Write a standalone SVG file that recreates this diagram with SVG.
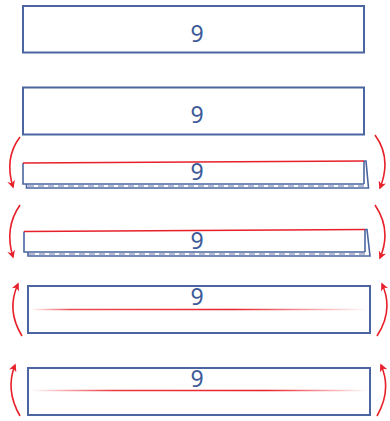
<svg xmlns="http://www.w3.org/2000/svg" width="390" height="421" viewBox="0 0 390 421">
<style>
.box{fill:#fff;stroke:#4a65a0;stroke-width:2}
.ln{fill:none;stroke:#4a65a0;stroke-width:1.6}
.hatch{fill:none;stroke:#9aa6c4;stroke-width:1.5;stroke-dasharray:6 4}
.red{fill:none;stroke:#e8202a;stroke-width:1.6}
.arr{fill:none;stroke:#e8202a;stroke-width:1.6;marker-end:url(#ah)}
.t{font-family:"Noto Sans","DejaVu Sans",sans-serif;font-size:23px;fill:#3d5a98;text-anchor:middle}
</style>
<defs>
<marker id="ah" viewBox="0 0 10 10" refX="8" refY="5" markerWidth="8" markerHeight="8" orient="auto" markerUnits="userSpaceOnUse">
<path d="M0,0 L10,5 L0,10 L3,5 Z" fill="#e8202a"/>
</marker>
<linearGradient id="g5" x1="30" y1="0" x2="368" y2="0" gradientUnits="userSpaceOnUse">
<stop offset="0" stop-color="#e8202a" stop-opacity="0"/>
<stop offset="0.12" stop-color="#e8202a" stop-opacity="0.8"/>
<stop offset="0.6" stop-color="#e8202a" stop-opacity="1"/>
<stop offset="1" stop-color="#e8202a" stop-opacity="0"/>
</linearGradient>
<linearGradient id="g6" x1="30" y1="0" x2="368" y2="0" gradientUnits="userSpaceOnUse">
<stop offset="0" stop-color="#e8202a" stop-opacity="0"/>
<stop offset="0.25" stop-color="#e8202a" stop-opacity="0.9"/>
<stop offset="0.7" stop-color="#e8202a" stop-opacity="1"/>
<stop offset="1" stop-color="#e8202a" stop-opacity="0"/>
</linearGradient>
</defs>

<g id="strip1">
<rect class="box" x="23" y="6" width="341" height="46.5"/>
<text class="t" x="197" y="42">9</text>
</g>

<g id="strip2">
<rect class="box" x="23" y="87.5" width="341" height="47"/>
<text class="t" x="197" y="123">9</text>
</g>

<g id="fold1">
<path d="M23,163 L364,161 L364,184 L23,184 Z" fill="#fff"/>
<line class="hatch" x1="28" y1="186" x2="367" y2="186"/>
<path class="ln" d="M23,163 L23,184 L364,184 M364,161 L364,184"/>
<path class="ln" d="M26.5,184 L26.5,188 L368.5,188 L366,161 L364,161"/>
<path class="red" d="M23,163 L364,161"/>
<text class="t" x="197" y="180">9</text>
</g>

<g id="fold2">
<path d="M24,231.5 L365,229.5 L365,252 L24,252 Z" fill="#fff"/>
<line class="hatch" x1="29" y1="254" x2="368" y2="254"/>
<path class="ln" d="M24,231.5 L24,252 L365,252 M365,229.5 L365,252"/>
<path class="ln" d="M28,252 L28,256 L370,256 L367,229.5 L365,229.5"/>
<path class="red" d="M24,231.5 L365,229.5"/>
<text class="t" x="197" y="249">9</text>
</g>

<g id="strip5">
<rect class="box" x="28" y="286" width="342" height="47"/>
<line x1="30" y1="309.5" x2="368" y2="309.5" stroke="url(#g5)" stroke-width="1.6"/>
<text class="t" x="197" y="305">9</text>
</g>

<g id="strip6">
<rect class="box" x="28" y="368" width="342" height="47"/>
<line x1="30" y1="390.5" x2="368" y2="390.5" stroke="url(#g6)" stroke-width="1.6"/>
<text class="t" x="197" y="387">9</text>
</g>

<g id="connectors">
<path class="arr" d="M20,137 Q4,158 13,187"/>
<path class="arr" d="M375,135 Q392,158 380,188"/>
<path class="arr" d="M20,205 Q4,228 13,257"/>
<path class="arr" d="M375,205 Q392,230 380,258"/>
<path class="arr" d="M22,336 Q6,310 18,284"/>
<path class="arr" d="M377,336 Q394,310 382,284"/>
<path class="arr" d="M20,416 Q5,390 15,365"/>
<path class="arr" d="M377,416 Q392,390 381,365"/>
</g>
</svg>
